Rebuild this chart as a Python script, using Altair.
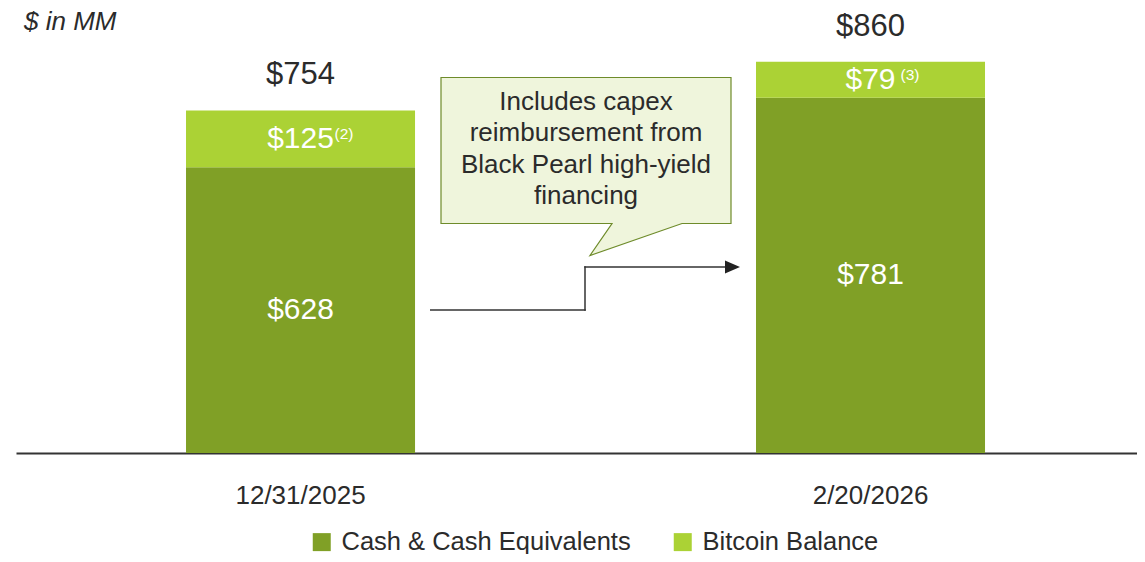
import altair as alt
import pandas as pd

# ---- data ----
dates = ["12/31/2025", "2/20/2026"]
cash = [628, 781]
bitcoin = [125, 79]
totals = [754, 860]
footnotes = ["(2)", "(3)"]
series = ["Cash & Cash Equivalents", "Bitcoin Balance"]
callout_lines = ["Includes capex", "reimbursement from", "Black Pearl high-yield", "financing"]
unit_note = "$ in MM"

# ---- styles ----
FONT = "Liberation Sans"
TEXT = "#2B2B2B"
colors = ["#80A026", "#ABD235"]
CALLOUT_FILL = "#EFF5DC"
CALLOUT_STROKE = "#6E8B2A"
LINE = "#333333"
sup_dx = [34, 30]

rows = []
for d, c, b in zip(dates, cash, bitcoin):
    rows.append({"date": d, "series": series[0], "value": c, "order": 0,
                 "label": f"${c}", "mid": c / 2})
    rows.append({"date": d, "series": series[1], "value": b, "order": 1,
                 "label": f"${b}", "mid": c + b / 2})
bars_df = pd.DataFrame(rows)
btc_df = bars_df[bars_df["series"] == series[1]].copy()
btc_df["fn"] = footnotes
tot_df = pd.DataFrame({"date": dates,
                       "top": [c + b for c, b in zip(cash, bitcoin)],
                       "label": [f"${t}" for t in totals]})
one = pd.DataFrame({"k": [0]})

x = alt.X("date:N", sort=dates, title=None,
          scale=alt.Scale(paddingInner=0.5982, paddingOuter=0.28246, align=0.528),
          axis=alt.Axis(labelFont=FONT, labelFontSize=26, labelColor=TEXT,
                        labelPadding=29, ticks=False, domainColor=LINE,
                        domainWidth=2, labelAngle=0, grid=False))
yscale = alt.Scale(domain=[0, 978], nice=False, zero=True)

bars = alt.Chart(bars_df).mark_bar().encode(
    x=x,
    y=alt.Y("value:Q", stack="zero", scale=yscale, axis=None, title=None),
    color=alt.Color("series:N", scale=alt.Scale(domain=series, range=colors),
                    legend=alt.Legend(title=None, orient="none", legendX=293, legendY=521,
                                      direction="horizontal", symbolType="square",
                                      symbolSize=324, symbolStrokeWidth=0,
                                      labelFont=FONT, labelFontSize=25.5, labelColor=TEXT,
                                      labelLimit=600, labelOffset=7, columnPadding=39,
                                      padding=0)),
    order=alt.Order("order:Q"),
)

inner = alt.Chart(bars_df).mark_text(font=FONT, fontSize=30, color="white",
                                     align="center", baseline="middle").encode(
    x=x, y=alt.Y("mid:Q", scale=yscale, axis=None), text="label:N")

sups = []
for d, dxv in zip(dates, sup_dx):
    sups.append(alt.Chart(btc_df).transform_filter(alt.datum.date == d).mark_text(
        font=FONT, fontSize=15.5, color="white", align="left",
        baseline="alphabetic", dx=dxv).encode(
        x=x, y=alt.Y("mid:Q", scale=yscale, axis=None), text="fn:N"))

tots = alt.Chart(tot_df).mark_text(font=FONT, fontSize=31, color=TEXT,
                                   align="center", baseline="alphabetic", dy=-26).encode(
    x=x, y=alt.Y("top:Q", scale=yscale, axis=None), text="label:N")

note = alt.Chart(one).mark_text(font=FONT, fontSize=26, fontStyle="italic", color=TEXT,
                                align="left", baseline="top").encode(
    x=alt.value(8), y=alt.value(1), text=alt.value(unit_note))

callout_path = "M-145,-73L145,-73L145,73L96,73L4,105L26,73L-145,73Z"
callout = alt.Chart(one).mark_point(shape=callout_path, size=4, filled=True,
                                    fill=CALLOUT_FILL, stroke=CALLOUT_STROKE,
                                    strokeWidth=1.2, opacity=1, fillOpacity=1).encode(
    x=alt.value(570), y=alt.value(142.5))

callout_text = alt.Chart(one).mark_text(font=FONT, fontSize=26, color=TEXT, align="center",
                                        baseline="middle", lineBreak="\n",
                                        lineHeight=31.3).encode(
    x=alt.value(570), y=alt.value(94), text=alt.value("\n".join(callout_lines)))

seg1 = alt.Chart(one).mark_rule(color=LINE, strokeWidth=1.5).encode(
    x=alt.value(414), x2=alt.value(569.75), y=alt.value(302))
seg2 = alt.Chart(one).mark_rule(color=LINE, strokeWidth=1.5).encode(
    x=alt.value(569), y=alt.value(302.75), y2=alt.value(258.25))
seg3 = alt.Chart(one).mark_rule(color=LINE, strokeWidth=1.5).encode(
    x=alt.value(568.25), x2=alt.value(712), y=alt.value(259))
head = alt.Chart(one).mark_point(shape="M-1,-0.87L1,0L-1,0.87Z", size=225, filled=True,
                                 fill="#222222", strokeWidth=0, opacity=1).encode(
    x=alt.value(716.5), y=alt.value(259))

chart = alt.layer(bars, inner, *sups, tots, note, seg1, seg2, seg3, head,
                  callout, callout_text).properties(
    width=1121, height=445,
    autosize=alt.AutoSizeParams(type="none"),
    padding={"left": 8, "top": 0, "right": 0, "bottom": 101},
    background="white",
).configure_view(stroke=None)

chart.save("out.html", embed_options={"renderer": "svg", "actions": False})
